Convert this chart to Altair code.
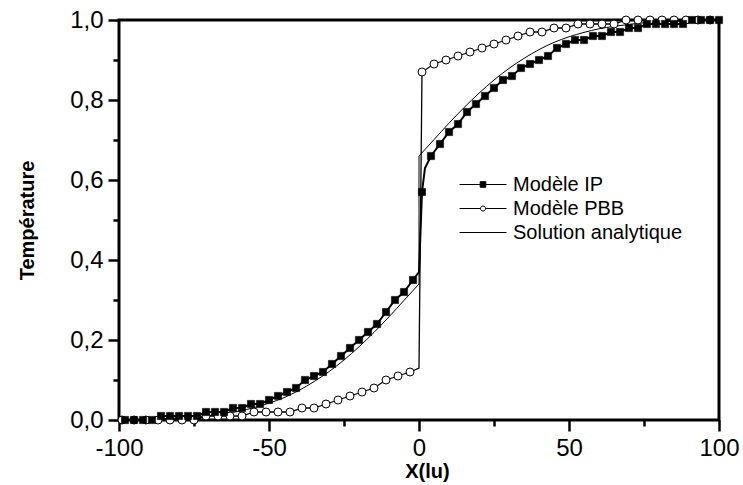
import altair as alt
import pandas as pd

# ---- Modèle IP : nœuds marqués tous les 3 lu ----
ip_x = list(range(-98, 101, 3))
ip_t = [
    0.00, 0.00, 0.00, 0.00, 0.01, 0.01, 0.01, 0.01, 0.01, 0.02,   # -98 .. -71
    0.02, 0.02, 0.03, 0.03, 0.04, 0.04, 0.05, 0.06, 0.07, 0.08,   # -68 .. -41
    0.10, 0.11, 0.12, 0.14, 0.16, 0.18, 0.20, 0.22, 0.24, 0.27,   # -38 .. -11
    0.30, 0.32, 0.35,                                             # -8 .. -2
    0.57, 0.66, 0.69, 0.72, 0.74, 0.77, 0.79, 0.81, 0.83, 0.85,   # 1 .. 28
    0.86, 0.88, 0.89, 0.90, 0.91, 0.93, 0.94, 0.95, 0.95, 0.96,   # 31 .. 58
    0.96, 0.97, 0.97, 0.98, 0.98, 0.99, 0.99, 0.99, 0.99, 0.99,   # 61 .. 88
    1.00, 1.00, 1.00, 1.00,                                       # 91 .. 100
]
# nœuds non marqués autour de l'interface
ip_extra_x = [0, 2]
ip_extra_t = [0.37, 0.63]

# ---- Modèle PBB : nœuds marqués tous les 4 lu ----
pbb_x = list(range(-99, 98, 4))
pbb_t = [
    0.00, 0.00, 0.00, 0.00, 0.00, 0.00, 0.00, 0.01, 0.01, 0.01,   # -99 .. -63
    0.01, 0.02, 0.02, 0.02, 0.02, 0.03, 0.03, 0.04, 0.05, 0.06,   # -59 .. -23
    0.07, 0.08, 0.10, 0.11, 0.12,                                 # -19 .. -3
    0.87, 0.89, 0.90, 0.91, 0.92, 0.93, 0.94, 0.95, 0.96, 0.97,   # 1 .. 37
    0.97, 0.98, 0.98, 0.99, 0.99, 0.99, 0.99, 1.00, 1.00, 1.00,   # 41 .. 77
    1.00, 1.00, 1.00, 1.00, 1.00,                                 # 81 .. 97
]
pbb_extra_x = [0]
pbb_extra_t = [0.13]

# ---- Solution analytique (branches gauche et droite) ----
an_left_x = list(range(-100, 1, 5))
an_left_t = [0.001, 0.001, 0.002, 0.003, 0.005, 0.007, 0.011, 0.016, 0.022, 0.031,
             0.042, 0.056, 0.074, 0.096, 0.121, 0.150, 0.183, 0.219, 0.258, 0.299,
             0.340]
an_right_x = list(range(0, 101, 5))
an_right_t = [0.660, 0.701, 0.742, 0.781, 0.817, 0.850, 0.879, 0.904, 0.926, 0.944,
              0.958, 0.969, 0.978, 0.984, 0.989, 0.993, 0.995, 0.997, 0.998, 0.999,
              0.999]

series_names = ["Modèle IP", "Modèle PBB", "Solution analytique"]

FONT = "Liberation Sans"

# ---- tables ----
ip_pts = pd.DataFrame({"x": ip_x, "T": ip_t})
ip_line = pd.concat([ip_pts, pd.DataFrame({"x": ip_extra_x, "T": ip_extra_t})]).sort_values("x")
pbb_pts = pd.DataFrame({"x": pbb_x, "T": pbb_t})
pbb_line = pd.concat([pbb_pts, pd.DataFrame({"x": pbb_extra_x, "T": pbb_extra_t})]).sort_values("x")
an_curves = pd.concat([
    pd.DataFrame({"x": an_left_x, "T": an_left_t, "part": "gauche"}),
    pd.DataFrame({"x": an_right_x, "T": an_right_t, "part": "droite"}),
])
an_jump = pd.DataFrame({"x": [0], "T": [an_left_t[-1]], "T2": [an_right_t[0]]})
legend_df = pd.DataFrame({"serie": series_names})

# ---- axes ----
x_axis = alt.Axis(
    values=[-100, -75, -50, -25, 0, 25, 50, 75, 100],
    labelExpr="datum.value % 50 === 0 ? '' + datum.value : ''",
    tickSize={"condition": {"test": "datum.value % 50 === 0", "value": 11}, "value": 6},
    tickWidth=2.5, tickColor="black", domain=False, grid=False,
    labelFont=FONT, labelFontSize=24, labelColor="black", labelPadding=5,
    labelFlush=False, labelOverlap=False,
    title="X(lu)", titleFont=FONT, titleFontSize=20, titleFontWeight="bold",
    titleColor="black", titleX=308, titleY=51, titleBaseline="middle",
)
y_axis = alt.Axis(
    values=[0, 0.1, 0.2, 0.3, 0.4, 0.5, 0.6, 0.7, 0.8, 0.9, 1.0],
    labelExpr="round(datum.value * 10) % 2 === 0 ? replace(format(datum.value, '.1f'), '.', ',') : ''",
    tickSize={"condition": {"test": "round(datum.value * 10) % 2 === 0", "value": 11}, "value": 6},
    tickWidth=2.5, tickColor="black", domain=False, grid=False,
    labelFont=FONT, labelFontSize=24, labelColor="black", labelPadding=5,
    labelFlush=False, labelOverlap=False,
    title="Température", titleFont=FONT, titleFontSize=20, titleFontWeight="bold",
    titleColor="black", titleX=-92, titleY=200, titleBaseline="middle", titleAngle=270,
)
x_scale = alt.Scale(domain=[-100, 100], nice=False, zero=False)
y_scale = alt.Scale(domain=[0, 1], nice=False, zero=False)
X = alt.X("x:Q", scale=x_scale, axis=x_axis)
Y = alt.Y("T:Q", scale=y_scale, axis=y_axis)

# ---- courbes ----
an_lines = alt.Chart(an_curves).mark_line(
    color="black", strokeWidth=1, interpolate="monotone"
).encode(x=X, y=Y, detail="part:N")
an_rule = alt.Chart(an_jump).mark_rule(color="black", strokeWidth=1).encode(
    x=X, y=Y, y2="T2:Q"
)
pbb_path = alt.Chart(pbb_line).mark_line(color="black", strokeWidth=1.3).encode(x=X, y=Y)
ip_path = alt.Chart(ip_line).mark_line(color="black", strokeWidth=2).encode(x=X, y=Y)

pbb_marks = alt.Chart(pbb_pts).mark_point(
    shape="circle", size=64, filled=True, fill="white", stroke="black",
    strokeWidth=1, opacity=1
).encode(x=X, y=Y)
ip_marks = alt.Chart(ip_pts).mark_point(
    shape="square", size=53, filled=True, fill="black", stroke="black",
    strokeWidth=0.5, opacity=1
).encode(x=X, y=Y)

# ---- légende : trait + symbole ----
sym_ip = "M-3.9,0H0.8M-1.83,-0.28H-1.27V0.28H-1.83Z"
sym_pbb = ("M-3.9,0H-1.8M-1.3,0H0.8"
           "M-1.8,0A0.25,0.25,0,1,0,-1.3,0A0.25,0.25,0,1,0,-1.8,0Z")
sym_an = "M-3.9,0H0.8"

leg = alt.Legend(
    orient="none", legendX=369, legendY=154, title=None,
    labelFont=FONT, labelFontSize=20, labelColor="black", labelOffset=4,
    labelLimit=0, padding=0, rowPadding=3, symbolSize=400,
    symbolStrokeWidth=1, symbolOpacity=1,
)
legend_layer = alt.Chart(legend_df).transform_filter("false").mark_point(
    filled=True, size=400, strokeWidth=1, opacity=1
).encode(
    shape=alt.Shape("serie:N", scale=alt.Scale(domain=series_names, range=[sym_ip, sym_pbb, sym_an]), legend=leg),
    fill=alt.Fill("serie:N", scale=alt.Scale(domain=series_names, range=["black", "white", "white"]), legend=leg),
    stroke=alt.Stroke("serie:N", scale=alt.Scale(domain=series_names, range=["black", "black", "black"]), legend=leg),
)

chart = alt.layer(
    an_lines, an_rule, pbb_path, ip_path, pbb_marks, ip_marks, legend_layer
).properties(
    width=600, height=400,
    autosize=alt.AutoSizeParams(type="none"),
    padding={"left": 119, "top": 20, "right": 24, "bottom": 65},
    background="white",
).configure_view(
    stroke="black", strokeWidth=3
)

chart.save("out.html", embed_options={"renderer": "svg", "actions": False})
